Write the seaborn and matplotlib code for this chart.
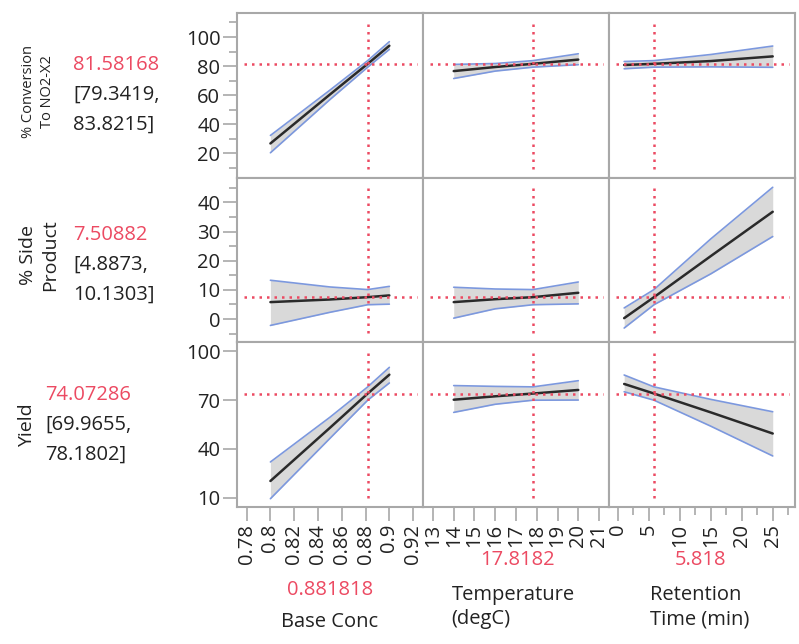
import numpy as np
import pandas as pd
import matplotlib
matplotlib.use('Agg')
import matplotlib.pyplot as plt
from matplotlib.ticker import FixedLocator, FixedFormatter
import seaborn as sns

# factor settings (current values shown by the red cross-hairs)
factor_names = ['Base Conc', 'Temperature\n(degC)', 'Retention\nTime (min)']
factor_now = [0.881818, 17.8182, 5.818]
factor_now_txt = ['0.881818', '17.8182', '5.818']

# x points used for each factor profile
x_base = [0.80, 0.85, 0.8818, 0.90]
x_temp = [14, 16, 17.82, 20]
x_ret = [1, 5.818, 15, 25]

# responses
resp_names = ['% Conversion\nTo NO2-X2', '% Side\nProduct', 'Yield']
resp_now = ['81.58168', '7.50882', '74.07286']
resp_ci = [['[79.3419,', '83.8215]'], ['[4.8873,', '10.1303]'], ['[69.9655,', '78.1802]']]
resp_val = [81.58168, 7.50882, 74.07286]

# % Conversion profiles
conv_base = [26.9, 60.5, 81.6, 94.0]
conv_base_lo = [20.5, 57.0, 79.3, 91.5]
conv_base_hi = [32.4, 63.5, 83.8, 96.8]
conv_temp = [76.6, 79.4, 81.6, 84.5]
conv_temp_lo = [71.5, 76.6, 79.3, 81.0]
conv_temp_hi = [81.2, 81.8, 83.8, 88.5]
conv_ret = [80.8, 81.6, 83.5, 86.7]
conv_ret_lo = [78.2, 79.3, 79.5, 79.2]
conv_ret_hi = [83.2, 83.8, 88.0, 93.8]

# % Side Product profiles
side_base = [5.8, 6.7, 7.5, 8.1]
side_base_lo = [-2.2, 2.3, 4.9, 5.1]
side_base_hi = [13.3, 11.0, 10.1, 11.2]
side_temp = [5.8, 6.8, 7.5, 9.0]
side_temp_lo = [0.3, 3.5, 4.9, 5.2]
side_temp_hi = [10.9, 10.3, 10.1, 12.7]
side_ret = [0.3, 7.5, 21.6, 36.8]
side_ret_lo = [-3.1, 4.9, 15.5, 28.3]
side_ret_hi = [3.8, 10.1, 27.5, 45.2]

# Yield profiles
yld_base = [20.3, 53.0, 74.1, 85.7]
yld_base_lo = [9.4, 46.5, 70.0, 80.6]
yld_base_hi = [32.0, 59.5, 78.2, 90.2]
yld_temp = [70.3, 72.4, 74.1, 76.3]
yld_temp_lo = [62.5, 67.5, 70.0, 70.1]
yld_temp_hi = [79.0, 78.5, 78.2, 82.0]
yld_ret = [80.0, 74.1, 62.5, 49.5]
yld_ret_lo = [75.2, 70.0, 54.0, 35.7]
yld_ret_hi = [85.5, 78.2, 70.5, 62.9]

# axis ticks
base_ticks = [0.78, 0.80, 0.82, 0.84, 0.86, 0.88, 0.90, 0.92]
base_labels = ['0.78', '0.8', '0.82', '0.84', '0.86', '0.88', '0.9', '0.92']
temp_ticks = [13, 14, 15, 16, 17, 18, 19, 20, 21]
temp_labels = ['13', '14', '15', '16', '17', '18', '19', '20', '21']
ret_ticks = [0, 5, 10, 15, 20, 25]
ret_labels = ['0', '5', '10', '15', '20', '25']
ret_minor = [2.5, 7.5, 12.5, 17.5, 22.5, 27.5]
conv_ticks = [20, 40, 60, 80, 100]
conv_minor = [10, 30, 50, 70, 90, 110]
side_ticks = [0, 10, 20, 30, 40]
side_minor = [-5, 5, 15, 25, 35, 45]
yld_ticks = [10, 40, 70, 100]

xs = [x_base, x_temp, x_ret]
profiles = [
    [(conv_base, conv_base_lo, conv_base_hi), (conv_temp, conv_temp_lo, conv_temp_hi), (conv_ret, conv_ret_lo, conv_ret_hi)],
    [(side_base, side_base_lo, side_base_hi), (side_temp, side_temp_lo, side_temp_hi), (side_ret, side_ret_lo, side_ret_hi)],
    [(yld_base, yld_base_lo, yld_base_hi), (yld_temp, yld_temp_lo, yld_temp_hi), (yld_ret, yld_ret_lo, yld_ret_hi)],
]
xlims = [(0.7719, 0.9283), (12.52, 21.48), (-1.45, 28.6)]
ylims = [(3.4, 116.5), (-8.0, 48.5), (4.3, 105.6)]
xticks = [(base_ticks, base_labels, []), (temp_ticks, temp_labels, []), (ret_ticks, ret_labels, ret_minor)]
yticks = [(conv_ticks, conv_minor), (side_ticks, side_minor), (yld_ticks, [])]

sns.set_style('white')
plt.rcParams['font.family'] = ['Open Sans', 'DejaVu Sans']

RED = '#ec4a62'
INK = '#222222'
FRAME = '#a8a8a8'
BLUE = '#7c98de'
W, H = 799, 644

fig, axes = plt.subplots(3, 3, figsize=(W / 100, H / 100), dpi=100,
                         gridspec_kw=dict(hspace=0, wspace=0))
fig.subplots_adjust(left=237 / W, right=795 / W, top=1 - 13 / H, bottom=1 - 507 / H)

for r in range(3):
    for c in range(3):
        ax = axes[r, c]
        pred, lo, hi = profiles[r][c]
        df = pd.DataFrame({'x': xs[c], 'pred': pred, 'lo': lo, 'hi': hi})
        ax.fill_between(df['x'], df['lo'], df['hi'], color='#d9d9d9', lw=0, zorder=1)
        sns.lineplot(data=df, x='x', y='hi', ax=ax, color=BLUE, lw=1.2, zorder=2)
        sns.lineplot(data=df, x='x', y='lo', ax=ax, color=BLUE, lw=1.2, zorder=2)
        sns.lineplot(data=df, x='x', y='pred', ax=ax, color='#2a2a2a', lw=1.8, zorder=3)
        ax.axhline(resp_val[r], xmin=0.04, xmax=0.97, color=RED, lw=1.8,
                   ls=(0, (1, 2)), zorder=4)
        ax.axvline(factor_now[c], ymin=0.055, ymax=0.94, color=RED, lw=1.8,
                   ls=(0, (1, 2)), zorder=4)
        ax.set_xlim(*xlims[c])
        ax.set_ylim(*ylims[r])
        ax.set_xlabel('')
        ax.set_ylabel('')
        for sp in ax.spines.values():
            sp.set_color(FRAME)
            sp.set_linewidth(1.5)

        t, lab, mn = xticks[c]
        ax.xaxis.set_major_locator(FixedLocator(t))
        ax.xaxis.set_major_formatter(FixedFormatter(lab))
        ax.xaxis.set_minor_locator(FixedLocator(mn))
        yt, ymn = yticks[r]
        ax.yaxis.set_major_locator(FixedLocator(yt))
        ax.yaxis.set_minor_locator(FixedLocator(ymn))

        ax.tick_params(axis='both', which='major', direction='out', length=10,
                       width=1.2, color=FRAME, labelsize=14.5, labelcolor=INK, pad=2,
                       left=True, bottom=True)
        ax.tick_params(axis='both', which='minor', direction='out', length=6,
                       width=1.2, color=FRAME, left=True, bottom=True)
        ax.tick_params(axis='x', labelrotation=90)
        if r < 2:
            ax.tick_params(axis='x', which='both', bottom=False, labelbottom=False)
        if c > 0:
            ax.tick_params(axis='y', which='both', left=False, labelleft=False)


def ftext(x, y, s, **kw):
    fig.text(x / W, 1 - y / H, s, **kw)


# response labels on the left
ftext(38, 92, resp_names[0], rotation=90, ha='center', va='center',
      fontsize=10.5, color=INK, linespacing=1.35)
ftext(39, 255, resp_names[1], rotation=90, ha='center', va='center',
      fontsize=14, color=INK, linespacing=1.35)
ftext(27, 425, resp_names[2], rotation=90, ha='center', va='center',
      fontsize=14, color=INK)

val_x = [73, 73, 45]
val_y = [65, 235, 395]
for r in range(3):
    ftext(val_x[r], val_y[r], resp_now[r], ha='left', va='center', fontsize=14.5, color=RED)
    ftext(val_x[r], val_y[r] + 30, resp_ci[r][0], ha='left', va='center', fontsize=14.5, color=INK)
    ftext(val_x[r], val_y[r] + 60, resp_ci[r][1], ha='left', va='center', fontsize=14.5, color=INK)

# factor labels below
ftext(330, 590, factor_now_txt[0], ha='center', va='center', fontsize=14.5, color=RED)
ftext(330, 622, factor_names[0], ha='center', va='center', fontsize=14.5, color=INK)
ftext(517, 560, factor_now_txt[1], ha='center', va='center', fontsize=14.5, color=RED)
ftext(513, 607, factor_names[1], ha='center', va='center', fontsize=14.5, color=INK,
      multialignment='left', linespacing=1.3)
ftext(700, 560, factor_now_txt[2], ha='center', va='center', fontsize=14.5, color=RED)
ftext(700, 607, factor_names[2], ha='center', va='center', fontsize=14.5, color=INK,
      multialignment='left', linespacing=1.3)

fig.savefig('out.png', dpi=100)
